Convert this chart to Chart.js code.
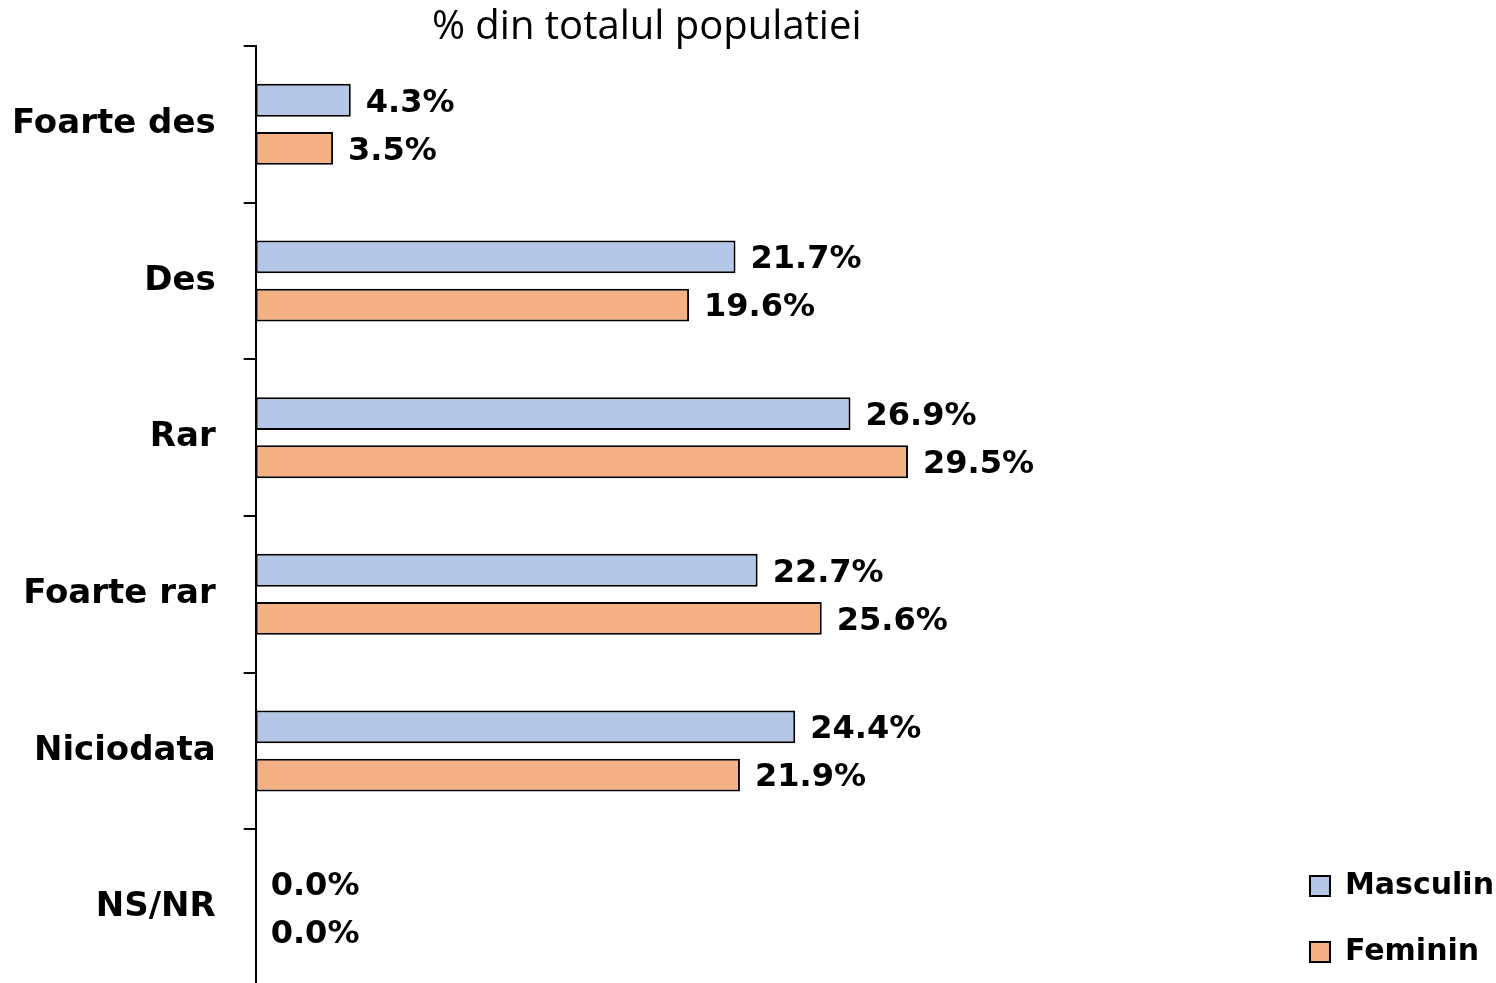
<!DOCTYPE html>
<html>
<head>
<meta charset="utf-8">
<script src="https://cdn.jsdelivr.net/npm/chart.js@4.4.1/dist/chart.umd.min.js"></script>
<style>
  html, body { margin: 0; padding: 0; background: #fff; overflow: hidden; }
  #wrap { width: 1496px; height: 990px; }
</style>
</head>
<body>
<div id="wrap"><canvas id="chart"></canvas></div>
<script>
  // frequency answers, split by gender
  const categories = ['Foarte des', 'Des', 'Rar', 'Foarte rar', 'Niciodata', 'NS/NR'];
  const masculin = [4.3, 21.7, 26.9, 22.7, 24.4, 0.0];
  const feminin = [3.5, 19.6, 29.5, 25.6, 21.9, 0.0];
  const seriesNames = ['Masculin', 'Feminin'];
  const chartTitle = '% din totalul populatiei';

  const FONT = "'DejaVu Sans', sans-serif";
  const TITLE_FONT = "'Open Sans', sans-serif";

  /* ---------- value labels next to each bar ---------- */
  const valueLabels = {
    id: 'valueLabels',
    afterDatasetsDraw(chart) {
      const ctx = chart.ctx;
      ctx.save();
      ctx.font = `bold 32px ${FONT}`;
      ctx.fillStyle = '#000';
      ctx.textAlign = 'left';
      ctx.textBaseline = 'middle';
      chart.data.datasets.forEach((ds, i) => {
        chart.getDatasetMeta(i).data.forEach((bar, j) => {
          ctx.fillText(ds.data[j].toFixed(1) + '%', bar.x + 15, bar.y + 3);
        });
      });
      ctx.restore();
    }
  };

  /* ---------- title above the plot ---------- */
  const topTitle = {
    id: 'topTitle',
    afterDraw(chart) {
      const ctx = chart.ctx;
      ctx.save();
      ctx.font = `400 40px ${TITLE_FONT}`;
      ctx.fillStyle = '#000';
      ctx.textAlign = 'center';
      ctx.textBaseline = 'middle';
      ctx.fillText(chartTitle, chart.chartArea.left + 391, 28);
      ctx.restore();
    }
  };

  // push the legend block toward the bottom-right corner
  const legendNudge = {
    id: 'legendNudge',
    afterLayout(chart) {
      const lg = chart.legend;
      if (lg) {
        lg.top += 17;
        lg.bottom += 17;
        lg.left += 10;
        lg.right += 10;
      }
    }
  };

  const noBorderAtZero = (ctx) => (ctx.raw === 0 ? 0 : 2);

  new Chart(document.getElementById('chart'), {
    type: 'bar',
    data: {
      labels: categories,
      datasets: [
        {
          label: seriesNames[0],
          data: masculin,
          backgroundColor: '#B4C7E7',
          borderColor: '#000',
          borderWidth: noBorderAtZero,
          borderSkipped: false,
          categoryPercentage: 0.615,
          barPercentage: 0.68,
        },
        {
          label: seriesNames[1],
          data: feminin,
          backgroundColor: '#F4B183',
          borderColor: '#000',
          borderWidth: noBorderAtZero,
          borderSkipped: false,
          categoryPercentage: 0.615,
          barPercentage: 0.68,
        },
      ],
    },
    options: {
      indexAxis: 'y',
      responsive: true,
      maintainAspectRatio: false,
      animation: false,
      layout: { padding: { top: 46, bottom: 4, left: 12, right: 2 } },
      scales: {
        x: {
          display: false,
          min: 0,
          max: 45.6,
        },
        y: {
          border: { display: true, color: '#000', width: 2 },
          grid: {
            offset: true,
            drawOnChartArea: false,
            drawTicks: true,
            tickLength: 12,
            color: '#000',
            lineWidth: 2,
          },
          ticks: {
            color: '#000',
            padding: 28,
            font: { family: FONT, size: 34, weight: 'bold' },
          },
          // labels sit between the ticks, so no extra room above/below,
          // and drop the spare gap left of the widest label
          afterFit(scale) {
            scale.paddingTop = 0;
            scale.paddingBottom = 0;
            scale.width -= 28;
          },
        },
      },
      plugins: {
        legend: {
          position: 'right',
          align: 'end',
          labels: {
            color: '#000',
            boxWidth: 20,
            boxHeight: 20,
            padding: 36,
            font: { family: FONT, size: 30, weight: 'bold' },
            generateLabels(chart) {
              return chart.data.datasets.map((ds, i) => ({
                text: ds.label,
                fillStyle: ds.backgroundColor,
                strokeStyle: '#000',
                lineWidth: 2,
                datasetIndex: i,
                fontColor: '#000',
              }));
            },
          },
        },
        tooltip: { enabled: false },
      },
    },
    plugins: [valueLabels, topTitle, legendNudge],
  });
</script>
</body>
</html>
